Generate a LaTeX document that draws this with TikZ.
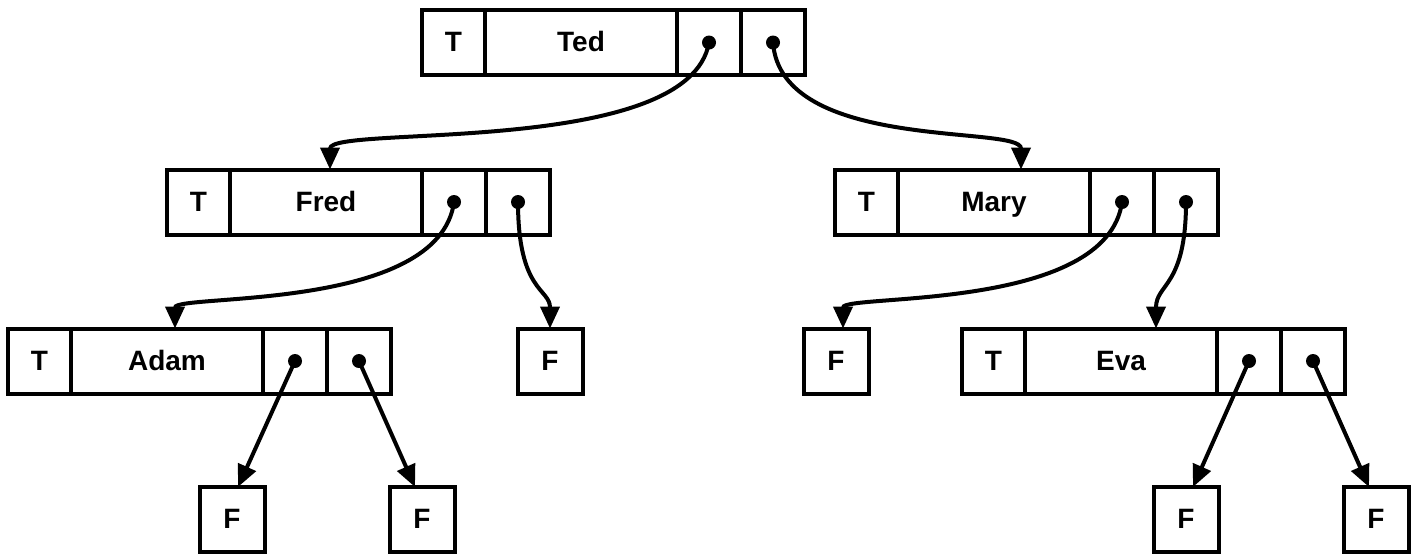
\documentclass[tikz,border=0pt]{standalone}
\usepackage{fontspec}
\setmainfont{Liberation Sans}
\usepackage{tikz}
\usetikzlibrary{arrows.meta,positioning}
\tikzset{
  cell/.style={rectangle, draw, line width=2pt, inner sep=0pt, outer sep=0pt,
               minimum height=32.5pt, text height=10pt, text depth=1pt,
               font=\fontsize{14}{16}\selectfont\bfseries},
  tcell/.style={cell, minimum width=31.5pt},
  namecell/.style={cell, minimum width=96pt},
  ptrcell/.style={cell, minimum width=32pt},
  leaf/.style={cell, minimum width=32.5pt},
  dot/.style={circle, fill, inner sep=0pt, minimum size=7pt},
  arr/.style={-{Triangle[length=11pt,width=9.5pt]}, line width=2pt},
}
\begin{document}
\begin{tikzpicture}[x=0.5pt, y=-0.5pt]
  \useasboundingbox (0,0) rectangle (1417,554);
  % records: tag, name, two pointers
  \foreach \nm/\lbl/\x/\y in {ted/Ted/422/42.5, fred/Fred/167/202, mary/Mary/835/202,
                              adam/Adam/8/361, eva/Eva/962/361}{
    \node[tcell, anchor=west] (\nm-t) at (\x,\y) {T};
    \node[namecell, right=0pt of \nm-t] (\nm-n) {\lbl};
    \node[ptrcell, right=0pt of \nm-n] (\nm-l) {};
    \node[ptrcell, right=0pt of \nm-l] (\nm-r) {};
    \node[dot] (\nm-ld) at (\nm-l) {};
    \node[dot] (\nm-rd) at (\nm-r) {};
  }
  % empty subtrees
  \foreach \nm/\x/\y in {fred-rf/550/361, mary-lf/836/361, adam-lf/232/519.5,
                         adam-rf/422/519.5, eva-lf/1186/519.5, eva-rf/1376/519.5}{
    \node[leaf] (\nm) at (\x,\y) {F};
  }
  \draw[arr] (ted-ld.center) .. controls +(-20,115) and +(0,-45) .. ([xshift=2pt]fred-n.north);
  \draw[arr] (ted-rd.center) .. controls +(8,110) and +(0,-45) .. ([xshift=13.5pt]mary-n.north);
  \draw[arr] (fred-ld.center) .. controls +(-15,110) and +(0,-35) .. ([xshift=4pt]adam-n.north);
  \draw[arr] (fred-rd.center) .. controls +(0,90) and +(0,-40) .. (fred-rf.north);
  \draw[arr] (mary-ld.center) .. controls +(-15,110) and +(0,-35) .. ([xshift=3.5pt]mary-lf.north);
  \draw[arr] (mary-rd.center) .. controls +(0,85) and +(0,-45) .. ([xshift=17.5pt]eva-n.north);
  \draw[arr] (adam-ld.center) -- ([xshift=3pt]adam-lf.north);
  \draw[arr] (adam-rd.center) -- ([xshift=-3.5pt]adam-rf.north);
  \draw[arr] (eva-ld.center) -- ([xshift=3.5pt]eva-lf.north);
  \draw[arr] (eva-rd.center) -- ([xshift=-3.5pt]eva-rf.north);
\end{tikzpicture}
\end{document}
